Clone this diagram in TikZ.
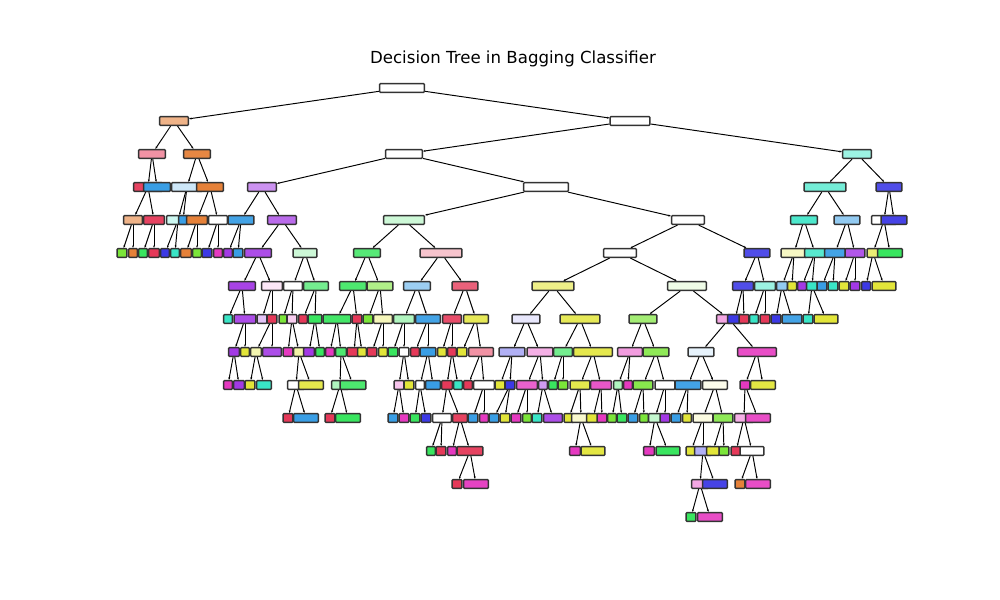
\documentclass[tikz,border=0pt]{standalone}
\usepackage{fontspec}
\setmainfont{DejaVu Sans}
\usepackage{tikz}
\usetikzlibrary{arrows.meta,backgrounds}
\definecolor{corange}{RGB}{229,129,57}
\definecolor{cyellow}{RGB}{226,229,57}
\definecolor{clime}{RGB}{123,229,57}
\definecolor{cgreen}{RGB}{57,229,95}
\definecolor{cteal}{RGB}{57,229,198}
\definecolor{cblue}{RGB}{57,158,229}
\definecolor{cindigo}{RGB}{60,57,229}
\definecolor{cpurple}{RGB}{163,57,229}
\definecolor{cmagenta}{RGB}{229,57,192}
\definecolor{cred}{RGB}{229,57,89}

\begin{document}
\begin{tikzpicture}
[x=0.01in, y=-0.01in,
tn/.style ={draw=black!80, line width=1pt, rounded corners=0.7pt,
inner sep=0pt, minimum height=6.4pt},
wd/.style ={minimum width=#1*0.72pt-0.8pt},
link/.style ={draw, line width=0.7pt, -{Stealth[length=1.8pt,width=1.4pt]}}]
\useasboundingbox (0,0) rectangle (1000,600);

\node (title) at (513, 59) {\fontsize{12}{14}\selectfont Decision Tree in Bagging Classifier};

% depth 0 - 3
\node [tn, wd=46, fill=white]        (t0x402)  at (402, 88)  {};
\node [tn, wd=30, fill=corange!60]   (t1x174)  at (174, 121) {};
\node [tn, wd=41, fill=white]        (t1x630)  at (630, 121) {};
\node [tn, wd=28, fill=cred!55]      (t2x152)  at (152, 154) {};
\node [tn, wd=28, fill=corange!95]   (t2x197)  at (197, 154) {};
\node [tn, wd=38, fill=white]        (t2x404)  at (404, 154) {};
\node [tn, wd=30, fill=cteal!50]     (t2x857)  at (857, 154) {};
\node [tn, wd=30, fill=cred!95]      (t3x148)  at (148, 187) {};
\node [tn, wd=28, fill=cblue]        (t3x157)  at (157, 187) {};
\node [tn, wd=32, fill=cblue!25]     (t3x187)  at (187, 187) {};
\node [tn, wd=28, fill=corange]      (t3x210)  at (210, 187) {};
\node [tn, wd=30, fill=cpurple!55]   (t3x262)  at (262, 187) {};
\node [tn, wd=46, fill=white]        (t3x546)  at (546, 187) {};
\node [tn, wd=43, fill=cteal!70]     (t3x825)  at (825, 187) {};
\node [tn, wd=27, fill=cindigo!90]   (t3x889)  at (889, 187) {};

% depth 4
\node [tn, wd=20, fill=corange!60]   (t4x133)  at (133, 220) {};
\node [tn, wd=22, fill=cred!95]      (t4x154)  at (154, 220) {};
\node [tn, wd=24, fill=cteal!25]     (t4x178)  at (178, 220) {};
\node [tn, wd=10, fill=cblue]        (t4x183)  at (183, 220) {};
\node [tn, wd=22, fill=corange]      (t4x197)  at (197, 220) {};
\node [tn, wd=20, fill=white]        (t4x218)  at (218, 220) {};
\node [tn, wd=27, fill=cblue!95]     (t4x241)  at (241, 220) {};
\node [tn, wd=30, fill=cpurple!75]   (t4x282)  at (282, 220) {};
\node [tn, wd=42, fill=cgreen!25]    (t4x404)  at (404, 220) {};
\node [tn, wd=34, fill=white]        (t4x688)  at (688, 220) {};
\node [tn, wd=28, fill=cteal!90]     (t4x804)  at (804, 220) {};
\node [tn, wd=27, fill=cblue!55]     (t4x847)  at (847, 220) {};
\node [tn, wd=26, fill=white]        (t4x884)  at (884, 220) {};
\node [tn, wd=27, fill=cindigo!95]   (t4x894)  at (894, 220) {};

% depth 5
\node [tn, wd=11, fill=clime]        (t5x122)  at (122, 253) {};
\node [tn, wd=10, fill=corange]      (t5x133)  at (133, 253) {};
\node [tn, wd=10, fill=cgreen]       (t5x143)  at (143, 253) {};
\node [tn, wd=12, fill=cred]         (t5x154)  at (154, 253) {};
\node [tn, wd=10, fill=cindigo]      (t5x165)  at (165, 253) {};
\node [tn, wd=10, fill=cteal]        (t5x175)  at (175, 253) {};
\node [tn, wd=12, fill=corange]      (t5x186)  at (186, 253) {};
\node [tn, wd=10, fill=clime]        (t5x197)  at (197, 253) {};
\node [tn, wd=11, fill=cindigo]      (t5x207)  at (207, 253) {};
\node [tn, wd=10, fill=cmagenta]     (t5x218)  at (218, 253) {};
\node [tn, wd=10, fill=cpurple]      (t5x228)  at (228, 253) {};
\node [tn, wd=11, fill=cblue]        (t5x238)  at (238, 253) {};
\node [tn, wd=28, fill=cpurple!90]   (t5x258)  at (258, 253) {};
\node [tn, wd=25, fill=cgreen!25]    (t5x305)  at (305, 253) {};
\node [tn, wd=28, fill=cgreen!85]    (t5x367)  at (367, 253) {};
\node [tn, wd=43, fill=cred!30]      (t5x441)  at (441, 253) {};
\node [tn, wd=34, fill=white]        (t5x620)  at (620, 253) {};
\node [tn, wd=27, fill=cindigo!90]   (t5x757)  at (757, 253) {};
\node [tn, wd=27, fill=cyellow!30]   (t5x794)  at (794, 253) {};
\node [tn, wd=22, fill=cteal!85]     (t5x815)  at (815, 253) {};
\node [tn, wd=22, fill=cblue!95]     (t5x835)  at (835, 253) {};
\node [tn, wd=21, fill=cpurple!85]   (t5x855)  at (855, 253) {};
\node [tn, wd=13, fill=cyellow!70]   (t5x873)  at (873, 253) {};
\node [tn, wd=26, fill=cgreen]       (t5x890)  at (890, 253) {};

% depth 6
\node [tn, wd=28, fill=cpurple!95]   (t6x242)  at (242, 286) {};
\node [tn, wd=22, fill=cmagenta!12]  (t6x272)  at (272, 286) {};
\node [tn, wd=20, fill=white]        (t6x293)  at (293, 286) {};
\node [tn, wd=26, fill=cgreen!70]    (t6x316)  at (316, 286) {};
\node [tn, wd=28, fill=cgreen!90]    (t6x353)  at (353, 286) {};
\node [tn, wd=27, fill=clime!60]     (t6x380)  at (380, 286) {};
\node [tn, wd=28, fill=cblue!50]     (t6x417)  at (417, 286) {};
\node [tn, wd=27, fill=cred!80]      (t6x465)  at (465, 286) {};
\node [tn, wd=43, fill=cyellow!60]   (t6x553)  at (553, 286) {};
\node [tn, wd=40, fill=clime!12]     (t6x687)  at (687, 286) {};
\node [tn, wd=22, fill=cindigo!90]   (t6x743)  at (743, 286) {};
\node [tn, wd=22, fill=cteal!50]     (t6x765)  at (765, 286) {};
\node [tn, wd=12, fill=cblue!55]     (t6x782)  at (782, 286) {};
\node [tn, wd=10, fill=cyellow]      (t6x792)  at (792, 286) {};
\node [tn, wd=10, fill=cpurple]      (t6x802)  at (802, 286) {};
\node [tn, wd=12, fill=cteal]        (t6x812)  at (812, 286) {};
\node [tn, wd=11, fill=cblue]        (t6x822)  at (822, 286) {};
\node [tn, wd=11, fill=cteal]        (t6x833)  at (833, 286) {};
\node [tn, wd=11, fill=cyellow]      (t6x844)  at (844, 286) {};
\node [tn, wd=11, fill=cpurple]      (t6x855)  at (855, 286) {};
\node [tn, wd=10, fill=cindigo]      (t6x866)  at (866, 286) {};
\node [tn, wd=25, fill=cyellow]      (t6x884)  at (884, 286) {};

% depth 7
\node [tn, wd=10, fill=cteal]        (t7x228)  at (228, 319) {};
\node [tn, wd=23, fill=cpurple!90]   (t7x245)  at (245, 319) {};
\node [tn, wd=11, fill=cpurple!30]   (t7x262)  at (262, 319) {};
\node [tn, wd=11, fill=cred]         (t7x272)  at (272, 319) {};
\node [tn, wd=9,  fill=clime]        (t7x283)  at (283, 319) {};
\node [tn, wd=11, fill=cmagenta!25]  (t7x292)  at (292, 319) {};
\node [tn, wd=10, fill=cred]         (t7x303)  at (303, 319) {};
\node [tn, wd=15, fill=cgreen]       (t7x315)  at (315, 319) {};
\node [tn, wd=29, fill=cgreen!95]    (t7x337)  at (337, 319) {};
\node [tn, wd=11, fill=cred]         (t7x357)  at (357, 319) {};
\node [tn, wd=11, fill=clime]        (t7x368)  at (368, 319) {};
\node [tn, wd=20, fill=cyellow!35]   (t7x383)  at (383, 319) {};
\node [tn, wd=22, fill=cgreen!40]    (t7x404)  at (404, 319) {};
\node [tn, wd=26, fill=cblue!95]     (t7x428)  at (428, 319) {};
\node [tn, wd=20, fill=cred!90]      (t7x452)  at (452, 319) {};
\node [tn, wd=26, fill=cyellow!85]   (t7x476)  at (476, 319) {};
\node [tn, wd=29, fill=cindigo!12]   (t7x526)  at (526, 319) {};
\node [tn, wd=41, fill=cyellow!85]   (t7x580)  at (580, 319) {};
\node [tn, wd=29, fill=clime!70]     (t7x643)  at (643, 319) {};
\node [tn, wd=26, fill=cmagenta!45]  (t7x729)  at (729, 319) {};
\node [tn, wd=16, fill=cindigo]      (t7x735)  at (735, 319) {};
\node [tn, wd=11, fill=cred]         (t7x744)  at (744, 319) {};
\node [tn, wd=10, fill=cteal]        (t7x754)  at (754, 319) {};
\node [tn, wd=11, fill=cred]         (t7x765)  at (765, 319) {};
\node [tn, wd=11, fill=cindigo]      (t7x776)  at (776, 319) {};
\node [tn, wd=21, fill=cblue!95]     (t7x792)  at (792, 319) {};
\node [tn, wd=11, fill=cteal]        (t7x808)  at (808, 319) {};
\node [tn, wd=25, fill=cyellow]      (t7x826)  at (826, 319) {};

% depth 8
\node [tn, wd=12, fill=cpurple]      (t8x234)  at (234, 352) {};
\node [tn, wd=10, fill=cyellow]      (t8x245)  at (245, 352) {};
\node [tn, wd=12, fill=cyellow!40]   (t8x256)  at (256, 352) {};
\node [tn, wd=20, fill=cpurple!90]   (t8x272)  at (272, 352) {};
\node [tn, wd=11, fill=cmagenta]     (t8x288)  at (288, 352) {};
\node [tn, wd=12, fill=cyellow!45]   (t8x299)  at (299, 352) {};
\node [tn, wd=12, fill=cpurple]      (t8x309)  at (309, 352) {};
\node [tn, wd=10, fill=cgreen]       (t8x320)  at (320, 352) {};
\node [tn, wd=10, fill=cmagenta]     (t8x330)  at (330, 352) {};
\node [tn, wd=12, fill=cgreen!90]    (t8x341)  at (341, 352) {};
\node [tn, wd=15, fill=cred]         (t8x354)  at (354, 352) {};
\node [tn, wd=10, fill=cyellow]      (t8x362)  at (362, 352) {};
\node [tn, wd=11, fill=cred]         (t8x372)  at (372, 352) {};
\node [tn, wd=10, fill=cyellow]      (t8x383)  at (383, 352) {};
\node [tn, wd=11, fill=cgreen]       (t8x393)  at (393, 352) {};
\node [tn, wd=11, fill=white]        (t8x404)  at (404, 352) {};
\node [tn, wd=10, fill=cred]         (t8x415)  at (415, 352) {};
\node [tn, wd=17, fill=cblue]        (t8x428)  at (428, 352) {};
\node [tn, wd=10, fill=cyellow]      (t8x442)  at (442, 352) {};
\node [tn, wd=10, fill=cred]         (t8x452)  at (452, 352) {};
\node [tn, wd=11, fill=cyellow]      (t8x462)  at (462, 352) {};
\node [tn, wd=26, fill=cred!55]      (t8x481)  at (481, 352) {};
\node [tn, wd=27, fill=cindigo!40]   (t8x512)  at (512, 352) {};
\node [tn, wd=27, fill=cmagenta!40]  (t8x540)  at (540, 352) {};
\node [tn, wd=20, fill=cgreen!70]    (t8x563)  at (563, 352) {};
\node [tn, wd=40, fill=cyellow!90]   (t8x593)  at (593, 352) {};
\node [tn, wd=26, fill=cmagenta!50]  (t8x630)  at (630, 352) {};
\node [tn, wd=27, fill=clime!85]     (t8x656)  at (656, 352) {};
\node [tn, wd=27, fill=cblue!12]     (t8x701)  at (701, 352) {};
\node [tn, wd=40, fill=cmagenta!90]  (t8x757)  at (757, 352) {};

% depth 9
\node [tn, wd=10, fill=cmagenta]     (t9x228)  at (228, 385) {};
\node [tn, wd=12, fill=cpurple]      (t9x239)  at (239, 385) {};
\node [tn, wd=11, fill=cyellow]      (t9x250)  at (250, 385) {};
\node [tn, wd=16, fill=cteal]        (t9x264)  at (264, 385) {};
\node [tn, wd=18, fill=white]        (t9x296)  at (296, 385) {};
\node [tn, wd=26, fill=cyellow!90]   (t9x311)  at (311, 385) {};
\node [tn, wd=18, fill=cgreen!40]    (t9x340)  at (340, 385) {};
\node [tn, wd=27, fill=cgreen!90]    (t9x353)  at (353, 385) {};
\node [tn, wd=11, fill=cmagenta!30]  (t9x399)  at (399, 385) {};
\node [tn, wd=11, fill=cyellow]      (t9x409)  at (409, 385) {};
\node [tn, wd=10, fill=white]        (t9x420)  at (420, 385) {};
\node [tn, wd=16, fill=cblue]        (t9x433)  at (433, 385) {};
\node [tn, wd=12, fill=cred]         (t9x447)  at (447, 385) {};
\node [tn, wd=10, fill=cteal]        (t9x458)  at (458, 385) {};
\node [tn, wd=10, fill=cred]         (t9x468)  at (468, 385) {};
\node [tn, wd=22, fill=white]        (t9x484)  at (484, 385) {};
\node [tn, wd=11, fill=cyellow]      (t9x500)  at (500, 385) {};
\node [tn, wd=11, fill=cindigo]      (t9x510)  at (510, 385) {};
\node [tn, wd=22, fill=cmagenta!80]  (t9x527)  at (527, 385) {};
\node [tn, wd=10, fill=cpurple!50]   (t9x543)  at (543, 385) {};
\node [tn, wd=10, fill=cgreen]       (t9x553)  at (553, 385) {};
\node [tn, wd=11, fill=clime]        (t9x563)  at (563, 385) {};
\node [tn, wd=21, fill=cyellow!90]   (t9x580)  at (580, 385) {};
\node [tn, wd=22, fill=cmagenta!85]  (t9x601)  at (601, 385) {};
\node [tn, wd=10, fill=cgreen!40]    (t9x618)  at (618, 385) {};
\node [tn, wd=10, fill=cmagenta]     (t9x628)  at (628, 385) {};
\node [tn, wd=21, fill=clime!90]     (t9x643)  at (643, 385) {};
\node [tn, wd=21, fill=white]        (t9x665)  at (665, 385) {};
\node [tn, wd=27, fill=cblue!95]     (t9x688)  at (688, 385) {};
\node [tn, wd=26, fill=cyellow!10]   (t9x715)  at (715, 385) {};
\node [tn, wd=11, fill=cmagenta]     (t9x745)  at (745, 385) {};
\node [tn, wd=26, fill=cyellow!95]   (t9x763)  at (763, 385) {};

% depth 10
\node [tn, wd=11, fill=cred]         (t10x288) at (288, 418) {};
\node [tn, wd=26, fill=cblue]        (t10x306) at (306, 418) {};
\node [tn, wd=11, fill=cred]         (t10x330) at (330, 418) {};
\node [tn, wd=26, fill=cgreen]       (t10x348) at (348, 418) {};
\node [tn, wd=11, fill=cblue]        (t10x393) at (393, 418) {};
\node [tn, wd=11, fill=cmagenta]     (t10x404) at (404, 418) {};
\node [tn, wd=11, fill=cgreen]       (t10x415) at (415, 418) {};
\node [tn, wd=11, fill=cindigo]      (t10x426) at (426, 418) {};
\node [tn, wd=20, fill=white]        (t10x442) at (442, 418) {};
\node [tn, wd=16, fill=cred!95]      (t10x460) at (460, 418) {};
\node [tn, wd=11, fill=cblue]        (t10x473) at (473, 418) {};
\node [tn, wd=10, fill=cmagenta]     (t10x484) at (484, 418) {};
\node [tn, wd=11, fill=cblue]        (t10x494) at (494, 418) {};
\node [tn, wd=11, fill=cyellow]      (t10x505) at (505, 418) {};
\node [tn, wd=11, fill=cmagenta]     (t10x516) at (516, 418) {};
\node [tn, wd=10, fill=clime]        (t10x527) at (527, 418) {};
\node [tn, wd=11, fill=cteal]        (t10x537) at (537, 418) {};
\node [tn, wd=20, fill=cpurple!90]   (t10x553) at (553, 418) {};
\node [tn, wd=11, fill=cyellow]      (t10x569) at (569, 418) {};
\node [tn, wd=20, fill=cyellow!25]   (t10x581) at (581, 418) {};
\node [tn, wd=14, fill=cyellow]      (t10x593) at (593, 418) {};
\node [tn, wd=11, fill=cmagenta]     (t10x602) at (602, 418) {};
\node [tn, wd=10, fill=clime]        (t10x612) at (612, 418) {};
\node [tn, wd=11, fill=cgreen]       (t10x622) at (622, 418) {};
\node [tn, wd=11, fill=cblue]        (t10x633) at (633, 418) {};
\node [tn, wd=10, fill=clime]        (t10x644) at (644, 418) {};
\node [tn, wd=14, fill=cgreen!30]    (t10x655) at (655, 418) {};
\node [tn, wd=11, fill=cpurple]      (t10x665) at (665, 418) {};
\node [tn, wd=11, fill=cblue]        (t10x676) at (676, 418) {};
\node [tn, wd=10, fill=cyellow]      (t10x687) at (687, 418) {};
\node [tn, wd=21, fill=cyellow!15]   (t10x703) at (703, 418) {};
\node [tn, wd=21, fill=clime!85]     (t10x723) at (723, 418) {};
\node [tn, wd=20, fill=cmagenta!40]  (t10x744) at (744, 418) {};
\node [tn, wd=26, fill=cmagenta!90]  (t10x758) at (758, 418) {};

% depth 11 - 13
\node [tn, wd=10, fill=cgreen]       (t11x431) at (431, 451) {};
\node [tn, wd=11, fill=cred]         (t11x441) at (441, 451) {};
\node [tn, wd=10, fill=cmagenta]     (t11x452) at (452, 451) {};
\node [tn, wd=27, fill=cred!95]      (t11x470) at (470, 451) {};
\node [tn, wd=12, fill=cmagenta]     (t11x575) at (575, 451) {};
\node [tn, wd=25, fill=cyellow!95]   (t11x593) at (593, 451) {};
\node [tn, wd=12, fill=cmagenta]     (t11x649) at (649, 451) {};
\node [tn, wd=25, fill=cgreen]       (t11x668) at (668, 451) {};
\node [tn, wd=11, fill=cyellow]      (t11x691) at (691, 451) {};
\node [tn, wd=18, fill=cindigo!40]   (t11x703) at (703, 451) {};
\node [tn, wd=14, fill=cyellow]      (t11x713) at (713, 451) {};
\node [tn, wd=11, fill=clime]        (t11x724) at (724, 451) {};
\node [tn, wd=11, fill=cred]         (t11x736) at (736, 451) {};
\node [tn, wd=25, fill=white]        (t11x752) at (752, 451) {};
\node [tn, wd=11, fill=cred]         (t12x457) at (457, 484) {};
\node [tn, wd=26, fill=cmagenta!95]  (t12x476) at (476, 484) {};
\node [tn, wd=18, fill=cmagenta!45]  (t12x700) at (700, 484) {};
\node [tn, wd=26, fill=cindigo!95]   (t12x715) at (715, 484) {};
\node [tn, wd=11, fill=corange]      (t12x740) at (740, 484) {};
\node [tn, wd=26, fill=cmagenta!90]  (t12x758) at (758, 484) {};
\node [tn, wd=11, fill=cgreen]       (t13x691) at (691, 517) {};
\node [tn, wd=26, fill=cmagenta!90]  (t13x710) at (710, 517) {};

\begin{pgfonlayer}{background}
\fill [white] (0,0) rectangle (1000,600);
\draw [link] (t0x402) to (t1x174);
\draw [link] (t0x402) to (t1x630);
\draw [link] (t1x174) to (t2x152);
\draw [link] (t1x174) to (t2x197);
\draw [link] (t1x630) to (t2x404);
\draw [link] (t1x630) to (t2x857);
\draw [link] (t2x152) to (t3x148);
\draw [link] (t2x152) to (t3x157);
\draw [link] (t2x197) to (t3x187);
\draw [link] (t2x197) to (t3x210);
\draw [link] (t2x404) to (t3x262);
\draw [link] (t2x404) to (t3x546);
\draw [link] (t2x857) to (t3x825);
\draw [link] (t2x857) to (t3x889);

\draw [link] (t3x148) to (t4x133);
\draw [link] (t3x148) to (t4x154);
\draw [link] (t3x187) to (t4x178);
\draw [link] (t3x187) to (t4x183);
\draw [link] (t3x210) to (t4x197);
\draw [link] (t3x210) to (t4x218);
\draw [link] (t3x262) to (t4x241);
\draw [link] (t3x262) to (t4x282);
\draw [link] (t3x546) to (t4x404);
\draw [link] (t3x546) to (t4x688);
\draw [link] (t3x825) to (t4x804);
\draw [link] (t3x825) to (t4x847);
\draw [link] (t3x889) to (t4x884);
\draw [link] (t3x889) to (t4x894);

\draw [link] (t4x133) to (t5x122);
\draw [link] (t4x133) to (t5x133);
\draw [link] (t4x154) to (t5x143);
\draw [link] (t4x154) to (t5x154);
\draw [link] (t4x178) to (t5x165);
\draw [link] (t4x178) to (t5x175);
\draw [link] (t4x197) to (t5x186);
\draw [link] (t4x197) to (t5x197);
\draw [link] (t4x218) to (t5x207);
\draw [link] (t4x218) to (t5x218);
\draw [link] (t4x241) to (t5x228);
\draw [link] (t4x241) to (t5x238);
\draw [link] (t4x282) to (t5x258);
\draw [link] (t4x282) to (t5x305);
\draw [link] (t4x404) to (t5x367);
\draw [link] (t4x404) to (t5x441);
\draw [link] (t4x688) to (t5x620);
\draw [link] (t4x688) to (t5x757);
\draw [link] (t4x804) to (t5x794);
\draw [link] (t4x804) to (t5x815);
\draw [link] (t4x847) to (t5x835);
\draw [link] (t4x847) to (t5x855);
\draw [link] (t4x884) to (t5x873);
\draw [link] (t4x884) to (t5x890);

\draw [link] (t5x258) to (t6x242);
\draw [link] (t5x258) to (t6x272);
\draw [link] (t5x305) to (t6x293);
\draw [link] (t5x305) to (t6x316);
\draw [link] (t5x367) to (t6x353);
\draw [link] (t5x367) to (t6x380);
\draw [link] (t5x441) to (t6x417);
\draw [link] (t5x441) to (t6x465);
\draw [link] (t5x620) to (t6x553);
\draw [link] (t5x620) to (t6x687);
\draw [link] (t5x757) to (t6x743);
\draw [link] (t5x757) to (t6x765);
\draw [link] (t5x794) to (t6x782);
\draw [link] (t5x794) to (t6x792);
\draw [link] (t5x815) to (t6x802);
\draw [link] (t5x815) to (t6x812);
\draw [link] (t5x835) to (t6x822);
\draw [link] (t5x835) to (t6x833);
\draw [link] (t5x855) to (t6x844);
\draw [link] (t5x855) to (t6x855);
\draw [link] (t5x873) to (t6x866);
\draw [link] (t5x873) to (t6x884);

\draw [link] (t6x242) to (t7x228);
\draw [link] (t6x242) to (t7x245);
\draw [link] (t6x272) to (t7x262);
\draw [link] (t6x272) to (t7x272);
\draw [link] (t6x293) to (t7x283);
\draw [link] (t6x293) to (t7x292);
\draw [link] (t6x316) to (t7x303);
\draw [link] (t6x316) to (t7x315);
\draw [link] (t6x353) to (t7x337);
\draw [link] (t6x353) to (t7x357);
\draw [link] (t6x380) to (t7x368);
\draw [link] (t6x380) to (t7x383);
\draw [link] (t6x417) to (t7x404);
\draw [link] (t6x417) to (t7x428);
\draw [link] (t6x465) to (t7x452);
\draw [link] (t6x465) to (t7x476);
\draw [link] (t6x553) to (t7x526);
\draw [link] (t6x553) to (t7x580);
\draw [link] (t6x687) to (t7x643);
\draw [link] (t6x687) to (t7x729);
\draw [link] (t6x743) to (t7x735);
\draw [link] (t6x743) to (t7x744);
\draw [link] (t6x765) to (t7x754);
\draw [link] (t6x765) to (t7x765);
\draw [link] (t6x782) to (t7x776);
\draw [link] (t6x782) to (t7x792);
\draw [link] (t6x812) to (t7x808);
\draw [link] (t6x812) to (t7x826);

\draw [link] (t7x245) to (t8x234);
\draw [link] (t7x245) to (t8x245);
\draw [link] (t7x272) to (t8x256);
\draw [link] (t7x272) to (t8x272);
\draw [link] (t7x292) to (t8x288);
\draw [link] (t7x292) to (t8x299);
\draw [link] (t7x315) to (t8x309);
\draw [link] (t7x315) to (t8x320);
\draw [link] (t7x337) to (t8x330);
\draw [link] (t7x337) to (t8x341);
\draw [link] (t7x357) to (t8x354);
\draw [link] (t7x357) to (t8x362);
\draw [link] (t7x383) to (t8x372);
\draw [link] (t7x383) to (t8x383);
\draw [link] (t7x404) to (t8x393);
\draw [link] (t7x404) to (t8x404);
\draw [link] (t7x428) to (t8x415);
\draw [link] (t7x428) to (t8x428);
\draw [link] (t7x452) to (t8x442);
\draw [link] (t7x452) to (t8x452);
\draw [link] (t7x476) to (t8x462);
\draw [link] (t7x476) to (t8x481);
\draw [link] (t7x526) to (t8x512);
\draw [link] (t7x526) to (t8x540);
\draw [link] (t7x580) to (t8x563);
\draw [link] (t7x580) to (t8x593);
\draw [link] (t7x643) to (t8x630);
\draw [link] (t7x643) to (t8x656);
\draw [link] (t7x729) to (t8x701);
\draw [link] (t7x729) to (t8x757);

\draw [link] (t8x234) to (t9x228);
\draw [link] (t8x234) to (t9x239);
\draw [link] (t8x256) to (t9x250);
\draw [link] (t8x256) to (t9x264);
\draw [link] (t8x299) to (t9x296);
\draw [link] (t8x299) to (t9x311);
\draw [link] (t8x341) to (t9x340);
\draw [link] (t8x341) to (t9x353);
\draw [link] (t8x404) to (t9x399);
\draw [link] (t8x404) to (t9x409);
\draw [link] (t8x428) to (t9x420);
\draw [link] (t8x428) to (t9x433);
\draw [link] (t8x452) to (t9x447);
\draw [link] (t8x452) to (t9x458);
\draw [link] (t8x481) to (t9x468);
\draw [link] (t8x481) to (t9x484);
\draw [link] (t8x512) to (t9x500);
\draw [link] (t8x512) to (t9x510);
\draw [link] (t8x540) to (t9x527);
\draw [link] (t8x540) to (t9x543);
\draw [link] (t8x563) to (t9x553);
\draw [link] (t8x563) to (t9x563);
\draw [link] (t8x593) to (t9x580);
\draw [link] (t8x593) to (t9x601);
\draw [link] (t8x630) to (t9x618);
\draw [link] (t8x630) to (t9x628);
\draw [link] (t8x656) to (t9x643);
\draw [link] (t8x656) to (t9x665);
\draw [link] (t8x701) to (t9x688);
\draw [link] (t8x701) to (t9x715);
\draw [link] (t8x757) to (t9x745);
\draw [link] (t8x757) to (t9x763);

\draw [link] (t9x296) to (t10x288);
\draw [link] (t9x296) to (t10x306);
\draw [link] (t9x340) to (t10x330);
\draw [link] (t9x340) to (t10x348);
\draw [link] (t9x399) to (t10x393);
\draw [link] (t9x399) to (t10x404);
\draw [link] (t9x420) to (t10x415);
\draw [link] (t9x420) to (t10x426);
\draw [link] (t9x447) to (t10x442);
\draw [link] (t9x447) to (t10x460);
\draw [link] (t9x484) to (t10x473);
\draw [link] (t9x484) to (t10x484);
\draw [link] (t9x510) to (t10x494);
\draw [link] (t9x510) to (t10x505);
\draw [link] (t9x527) to (t10x516);
\draw [link] (t9x527) to (t10x527);
\draw [link] (t9x543) to (t10x537);
\draw [link] (t9x543) to (t10x553);
\draw [link] (t9x580) to (t10x569);
\draw [link] (t9x580) to (t10x581);
\draw [link] (t9x601) to (t10x593);
\draw [link] (t9x601) to (t10x602);
\draw [link] (t9x618) to (t10x612);
\draw [link] (t9x618) to (t10x622);
\draw [link] (t9x643) to (t10x633);
\draw [link] (t9x643) to (t10x644);
\draw [link] (t9x665) to (t10x655);
\draw [link] (t9x665) to (t10x665);
\draw [link] (t9x688) to (t10x676);
\draw [link] (t9x688) to (t10x687);
\draw [link] (t9x715) to (t10x703);
\draw [link] (t9x715) to (t10x723);
\draw [link] (t9x745) to (t10x744);
\draw [link] (t9x745) to (t10x758);

\draw [link] (t10x442) to (t11x431);
\draw [link] (t10x442) to (t11x441);
\draw [link] (t10x460) to (t11x452);
\draw [link] (t10x460) to (t11x470);
\draw [link] (t10x581) to (t11x575);
\draw [link] (t10x581) to (t11x593);
\draw [link] (t10x655) to (t11x649);
\draw [link] (t10x655) to (t11x668);
\draw [link] (t10x703) to (t11x691);
\draw [link] (t10x703) to (t11x703);
\draw [link] (t10x723) to (t11x713);
\draw [link] (t10x723) to (t11x724);
\draw [link] (t10x744) to (t11x736);
\draw [link] (t10x744) to (t11x752);
\draw [link] (t11x470) to (t12x457);
\draw [link] (t11x470) to (t12x476);
\draw [link] (t11x703) to (t12x700);
\draw [link] (t11x703) to (t12x715);
\draw [link] (t11x752) to (t12x740);
\draw [link] (t11x752) to (t12x758);
\draw [link] (t12x700) to (t13x691);
\draw [link] (t12x700) to (t13x710);
\end{pgfonlayer}

\end{tikzpicture}
\end{document}
